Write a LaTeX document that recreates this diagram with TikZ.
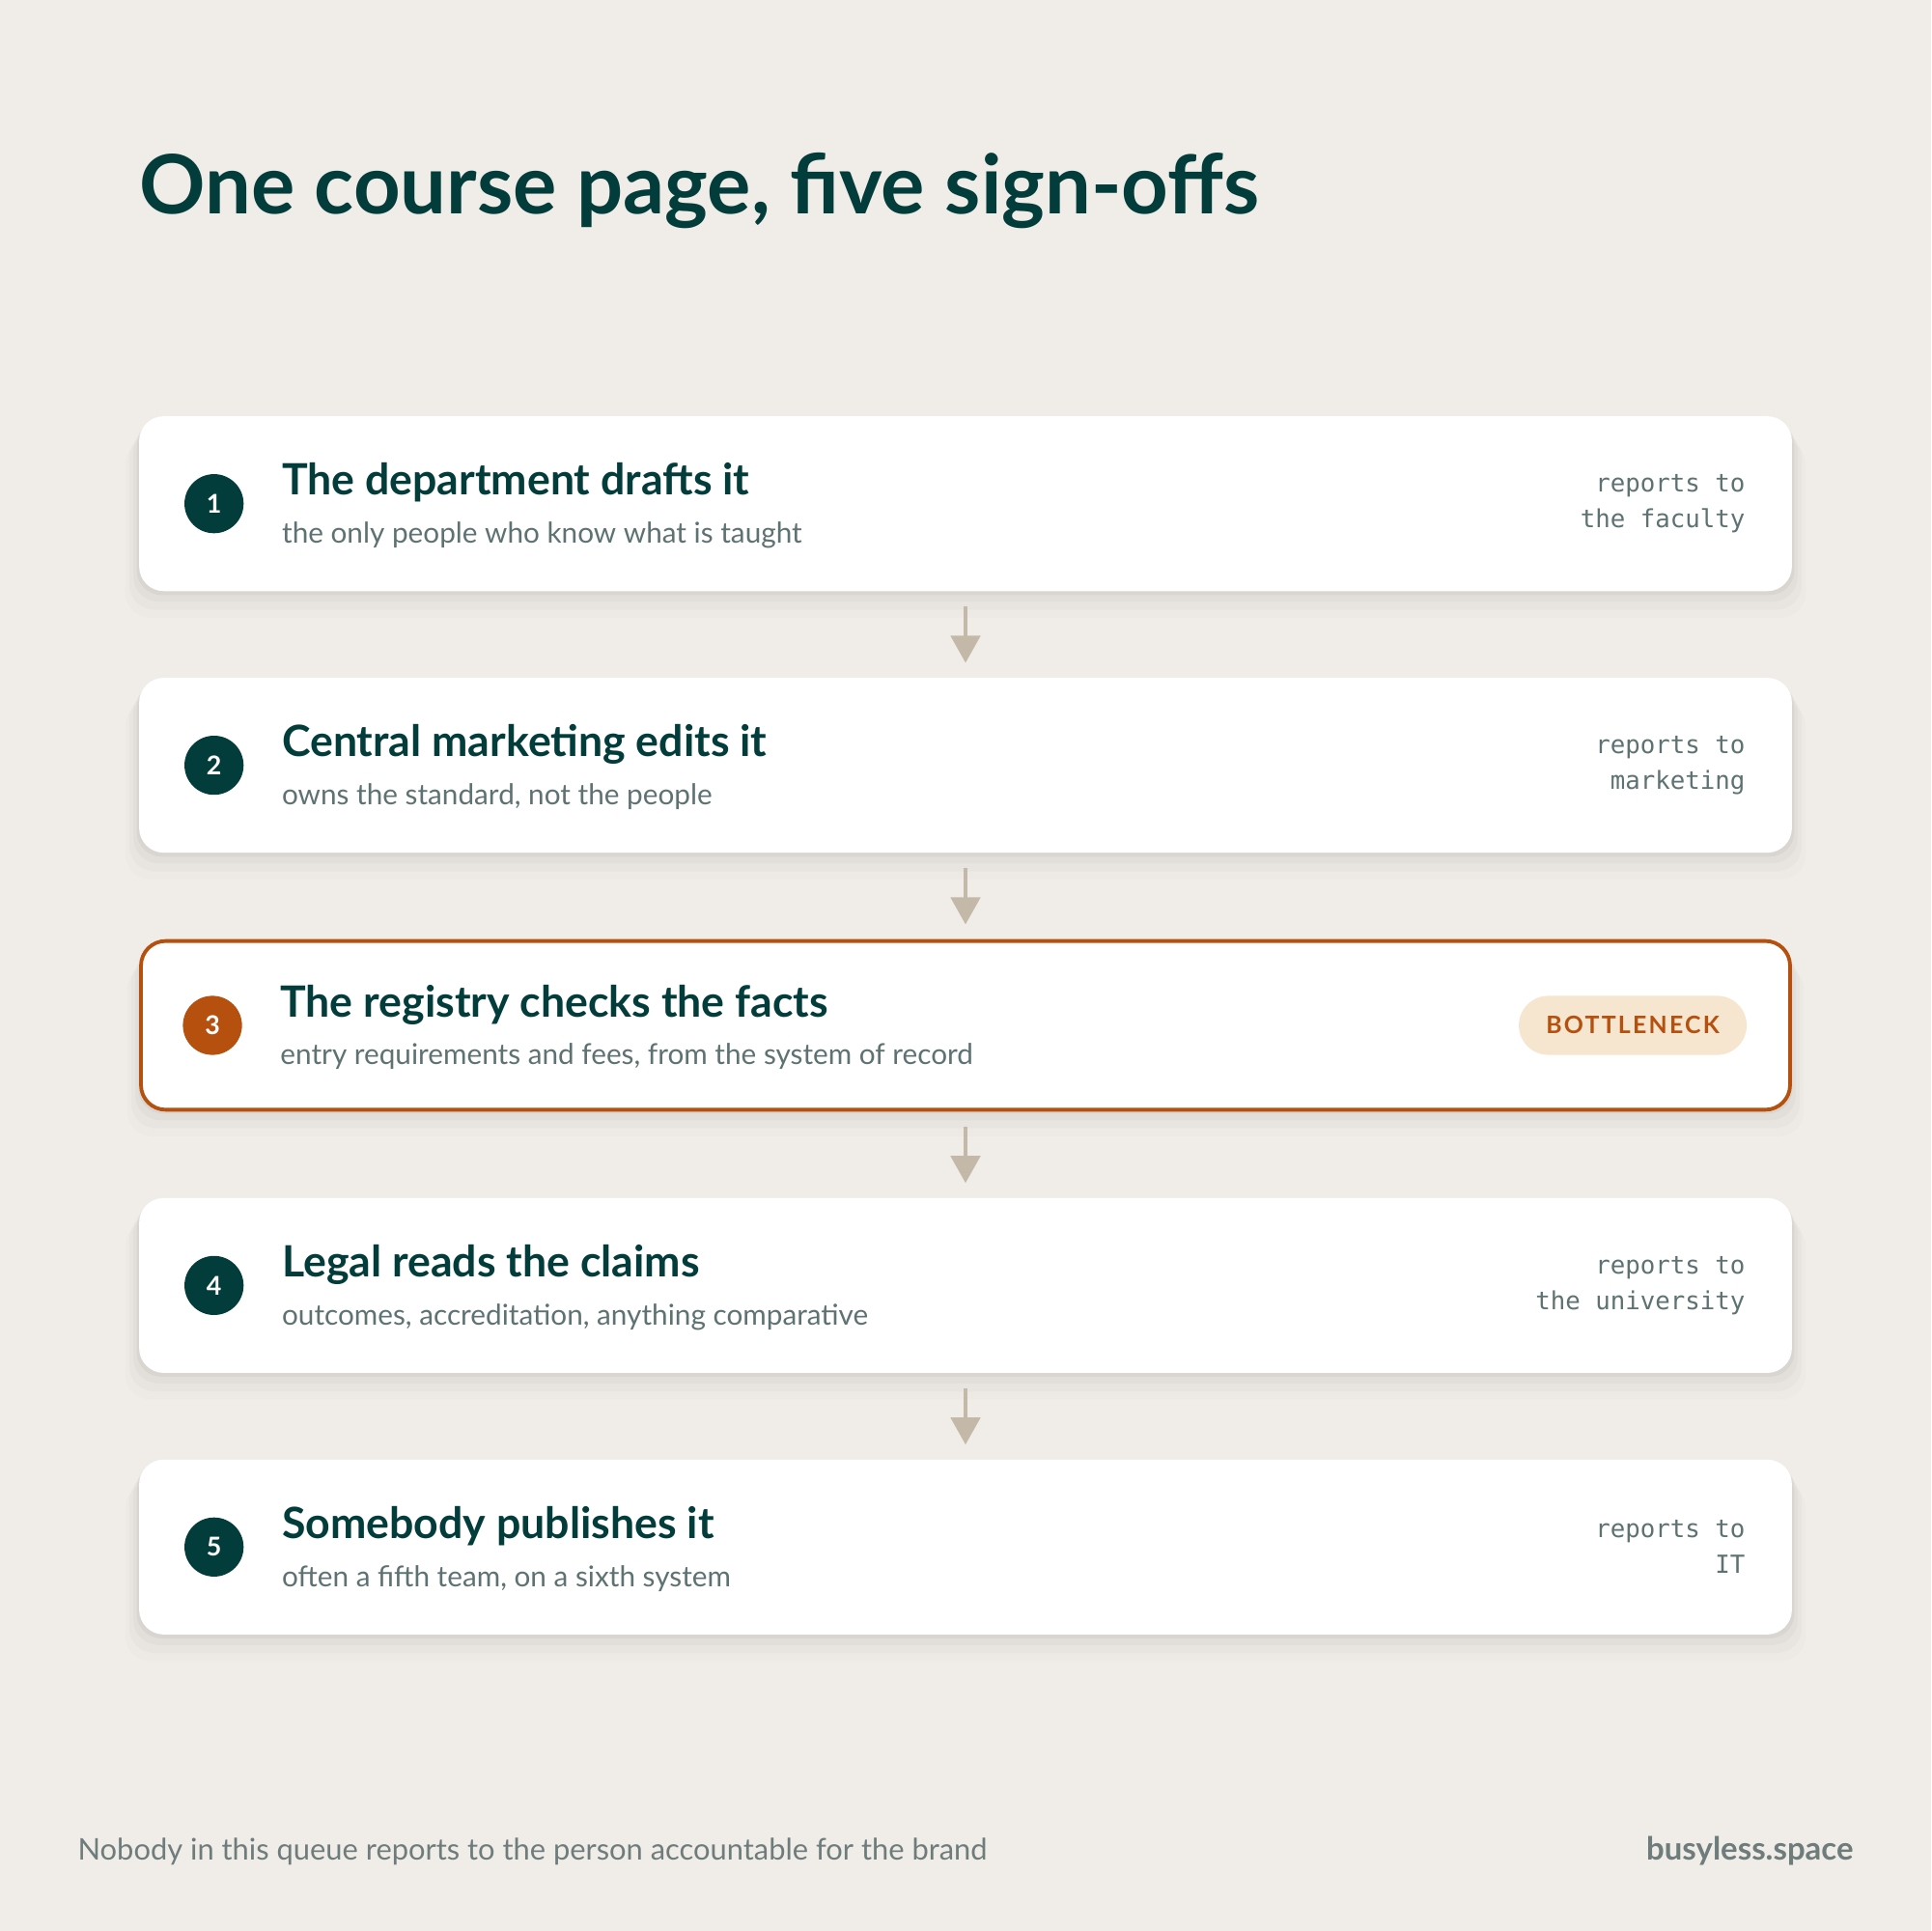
\documentclass[tikz,border=0pt]{standalone}
\usepackage{fontspec}
\setmainfont{Lato}
\newfontfamily\monofont{DejaVu Sans Mono}
\usetikzlibrary{positioning,arrows.meta,shadows}

\definecolor{paper}{HTML}{F0EDE8}
\definecolor{ink}{HTML}{033D3B}
\definecolor{rust}{HTML}{B5500F}
\definecolor{peach}{HTML}{F7E6CF}
\definecolor{taupe}{HTML}{C4B9A8}
\definecolor{slate}{HTML}{5E7272}
\definecolor{footgray}{HTML}{6E7C7C}

\begin{document}
\begin{tikzpicture}[x=1pt,y=-1pt]
        \tikzstyle{card}=[draw=none,fill=white,rounded corners=20pt,minimum width=1342pt,minimum height=142pt,inner sep=0pt,
          general shadow={shadow yshift=-3pt,shadow scale=1.003,opacity=0.035,fill=black},
          general shadow={shadow yshift=-8pt,shadow scale=1.007,opacity=0.025,fill=black},
          general shadow={shadow yshift=-14pt,shadow scale=1.012,opacity=0.018,fill=black},
          general shadow={shadow yshift=-20pt,shadow scale=1.017,opacity=0.012,fill=black}]
        \tikzstyle{hot}=[card,draw=rust,line width=3pt,minimum width=1339pt,minimum height=137pt]
        \tikzstyle{num}=[circle,fill=ink,text=white,minimum size=48pt,inner sep=0pt,font=\fontsize{21}{24}\selectfont\bfseries]
        \tikzstyle{head}=[anchor=base west,inner sep=0pt,text=ink,font=\fontsize{35}{40}\selectfont\bfseries]
        \tikzstyle{sub}=[anchor=base west,inner sep=0pt,text=slate,font=\fontsize{23.3}{27}\selectfont]
        \tikzstyle{owner}=[anchor=east,inner sep=0pt,align=right,text=slate,font=\fontsize{20.2}{29}\selectfont\monofont]
        \tikzstyle{flow}=[draw=taupe,line width=2.5pt,-{Triangle[width=24pt,length=22pt]}]
        \useasboundingbox[fill=paper] (0,0) rectangle (1568,1568);

        \node[anchor=base west,inner sep=0pt,text=ink,font=\fontsize{66.5}{74}\selectfont\bfseries] (title) at (113,174) {One course page, five sign-offs};

        \node[card] (c1) at (784,409) {};
        \node[card,below=70pt of c1] (c2) {};
        \node[hot,below=70pt of c2] (c3) {};
        \node[card,below=70pt of c3] (c4) {};
        \node[card,below=70pt of c4] (c5) {};

        % step 1
        \node[num] (n1) at ([xshift=61pt]c1.west) {1};
        \node[head] (h1) at ([xshift=116pt,yshift=7pt]c1.west) {The department drafts it};
        \node[sub] (s1) at ([xshift=116pt,yshift=-32pt]c1.west) {the only people who know what is taught};
        \node[owner] (r1) at ([xshift=-38pt]c1.east) {reports to\\the faculty};
        % step 2
        \node[num] (n2) at ([xshift=61pt]c2.west) {2};
        \node[head] (h2) at ([xshift=116pt,yshift=7pt]c2.west) {Central marketing edits it};
        \node[sub] (s2) at ([xshift=116pt,yshift=-32pt]c2.west) {owns the standard, not the people};
        \node[owner] (r2) at ([xshift=-38pt]c2.east) {reports to\\marketing};
        % step 3, the bottleneck
        \node[num,fill=rust] (n3) at ([xshift=59.5pt]c3.west) {3};
        \node[head] (h3) at ([xshift=114.5pt,yshift=7pt]c3.west) {The registry checks the facts};
        \node[sub] (s3) at ([xshift=114.5pt,yshift=-32pt]c3.west) {entry requirements and fees, from the system of record};
        \node[anchor=east,fill=peach,text=rust,rounded corners=24pt,minimum width=185pt,minimum height=48pt,inner sep=0pt,
          font=\fontsize{19.5}{22}\selectfont\bfseries\addfontfeatures{LetterSpace=9}] (b3) at ([xshift=-36.5pt]c3.east) {BOTTLENECK};
        % step 4
        \node[num] (n4) at ([xshift=61pt]c4.west) {4};
        \node[head] (h4) at ([xshift=116pt,yshift=7pt]c4.west) {Legal reads the claims};
        \node[sub] (s4) at ([xshift=116pt,yshift=-32pt]c4.west) {outcomes, accreditation, anything comparative};
        \node[owner] (r4) at ([xshift=-38pt]c4.east) {reports to\\the university};
        % step 5
        \node[num] (n5) at ([xshift=61pt]c5.west) {5};
        \node[head] (h5) at ([xshift=116pt,yshift=7pt]c5.west) {Somebody publishes it};
        \node[sub] (s5) at ([xshift=116pt,yshift=-32pt]c5.west) {often a fifth team, on a sixth system};
        \node[owner] (r5) at ([xshift=-38pt]c5.east) {reports to\\IT};

        \foreach \a/\b in {c1/c2,c2/c3,c3/c4,c4/c5}
          \draw[flow] ([yshift=-12pt]\a.south) -- ([yshift=12pt]\b.north);

        \node[anchor=base west,inner sep=0pt,text=footgray,font=\fontsize{24.2}{28}\selectfont] (note) at (63,1510) {Nobody in this queue reports to the person accountable for the brand};
        \node[anchor=base east,inner sep=0pt,text=footgray,font=\fontsize{25.8}{30}\selectfont\bfseries] (brand) at (1505,1510) {busyless.space};
\end{tikzpicture}
\end{document}
